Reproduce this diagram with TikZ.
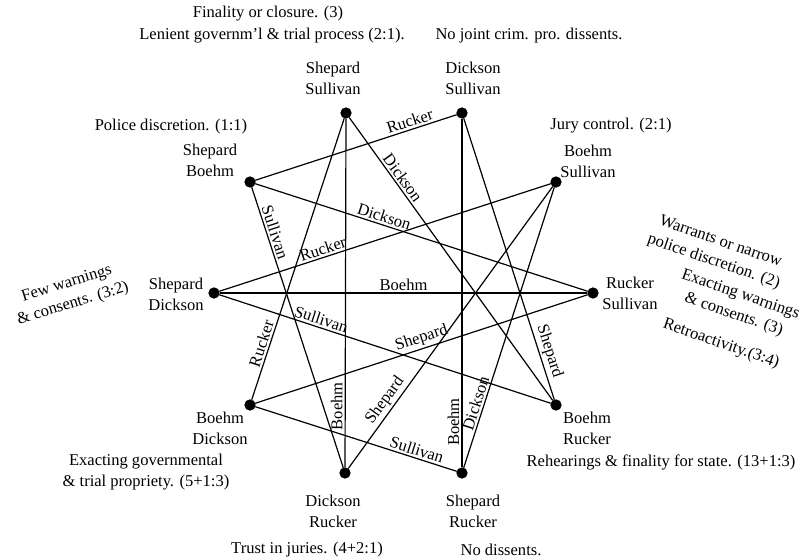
\documentclass[tikz,border=0pt]{standalone}
\usepackage{fontspec}
\setmainfont{Liberation Serif}
\begin{document}
\begin{tikzpicture}[x=0.75pt, y=-0.75pt, line width=0.9pt,
  font=\fontsize{12.4}{15.75}\selectfont,
  dot/.style={draw, shape=circle, fill=black, minimum size=7.5pt, inner sep=0pt},
  pair/.style={align=center, inner sep=0pt},
  note/.style={align=center, inner sep=0pt},
  edgelab/.style={sloped, above, inner sep=1.5pt}]
\useasboundingbox (0,0) rectangle (807,560);
\node (shepsull) [dot] at (346,113) {};
\node (dicksull) [dot] at (462,113) {};
\node (boehsull) [dot] at (556,182) {};
\node (rucksull) [dot] at (593,293) {};
\node (boehruck) [dot] at (556,405) {};
\node (shepruck) [dot] at (462,473) {};
\node (dickruck) [dot] at (345,473) {};
\node (boehdick) [dot] at (250,405) {};
\node (shepdick) [dot] at (214,293) {};
\node (shepboeh) [dot] at (250,182) {};
\node (shepsullname) [pair] at (333,78) {Shepard\\Sullivan};
\node (dicksullname) [pair] at (473,78) {Dickson\\Sullivan};
\node (boehsullname) [pair] at (588,161) {Boehm\\Sullivan};
\node (rucksullname) [pair] at (630,293) {Rucker\\Sullivan};
\node (boehruckname) [pair] at (587,428) {Boehm\\Rucker};
\node (shepruckname) [pair] at (473,511) {Shepard\\Rucker};
\node (dickruckname) [pair] at (333,511) {Dickson\\Rucker};
\node (boehdickname) [pair] at (220,428) {Boehm\\Dickson};
\node (shepdickname) [pair] at (176,294) {Shepard\\Dickson};
\node (shepboehname) [pair] at (210,160) {Shepard\\Boehm};
\node (finality) [note] at (268,14) {Finality or closure. (3)};
\node (lenient) [note] at (272,36) {Lenient governm'l \& trial process (2:1).};
\node (nojoint) [note] at (529,36) {No joint crim. pro. dissents.};
\node (police) [note] at (171,127) {Police discretion. (1:1)};
\node (jury) [note] at (611,126) {Jury control. (2:1)};
\node (fewwarn) [note, rotate=17] at (70,294) {Few warnings\\\& consents. (3:2)};
\node (warrants) [note, rotate=-19] at (717,252) {Warrants or narrow\\police discretion. (2)};
\node (exactwarn) [note, rotate=-19] at (737,305) {Exacting warnings\\\& consents. (3)};
\node (retro) [note, rotate=-19] at (721,344) {Retroactivity.(3:4)};
\node (exactgov) [note] at (146,472) {Exacting governmental\\\& trial propriety. (5+1:3)};
\node (rehear) [note] at (661,462) {Rehearings \& finality for state. (13+1:3)};
\node (trust) [note] at (307,550) {Trust in juries. (4+2:1)};
\node (nodiss) [note] at (501,550) {No dissents.};
\draw (shepsull) -- node[edgelab, pos=0.23] {Dickson} (boehruck);
\draw (dickruck) -- node[edgelab, pos=0.175] {Boehm} (shepsull);
\draw (boehdick) -- node[edgelab, pos=0.19] {Rucker} (shepsull);
\draw (dicksull) -- node[edgelab, pos=0.84] {Shepard} (boehruck);
\draw (shepruck) -- node[edgelab, pos=0.13] {Boehm} (dicksull);
\draw (shepboeh) -- node[edgelab, pos=0.78] {Rucker} (dicksull);
\draw (shepruck) -- node[edgelab, pos=0.22] {Dickson} (boehsull);
\draw (dickruck) -- node[edgelab, pos=0.22] {Shepard} (boehsull);
\draw (shepdick) -- node[edgelab, pos=0.32] {Rucker} (boehsull);
\draw (boehdick) -- node[edgelab, pos=0.51] {Shepard} (rucksull);
\draw (shepdick) -- node[edgelab, pos=0.5] {Boehm} (rucksull);
\draw (shepboeh) -- node[edgelab, pos=0.38] {Dickson} (rucksull);
\draw (shepdick) -- node[edgelab, pos=0.3] {Sullivan} (boehruck);
\draw (boehdick) -- node[edgelab, pos=0.79] {Sullivan} (shepruck);
\draw (shepboeh) -- node[edgelab, pos=0.17] {Sullivan} (dickruck);
\end{tikzpicture}
\end{document}
